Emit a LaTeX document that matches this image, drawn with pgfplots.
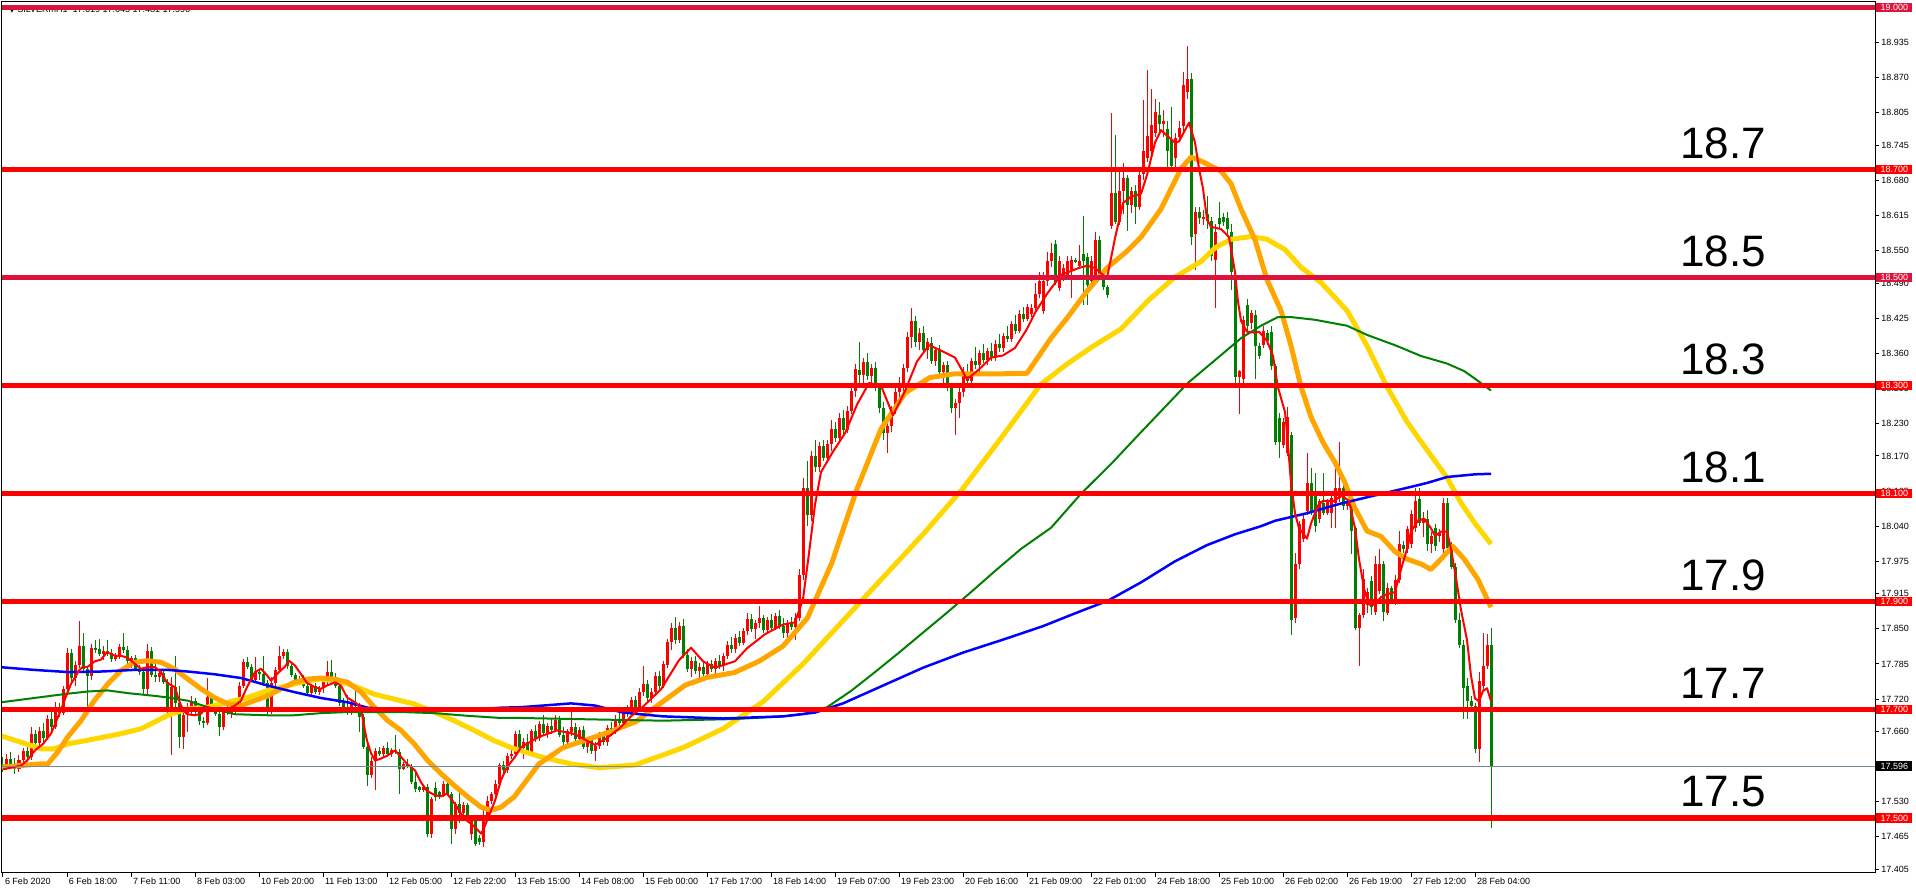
\documentclass[border=0pt]{standalone}
\usepackage{pgfplots}
\pgfplotsset{compat=1.18}
\usepackage{pgfplotstable}
\usepackage{fontspec}
\setmainfont{Liberation Sans}
\newfontfamily\dejavu{DejaVu Sans}
\definecolor{mtred}{RGB}{255,0,0}
\definecolor{mtgreen}{RGB}{0,128,0}
\definecolor{crimson}{RGB}{220,20,60}
\definecolor{maorange}{RGB}{255,165,0}
\definecolor{magold}{RGB}{255,215,0}
\definecolor{mablue}{RGB}{0,0,255}
\definecolor{slate}{RGB}{119,136,153}

\pgfplotstableread{
o h l c
17.600 17.612 17.585 17.592
17.592 17.618 17.588 17.610
17.610 17.622 17.594 17.598
17.598 17.611 17.582 17.590
17.590 17.616 17.586 17.608
17.608 17.630 17.600 17.624
17.624 17.640 17.604 17.612
17.612 17.668 17.608 17.656
17.656 17.662 17.630 17.638
17.638 17.668 17.626 17.660
17.660 17.676 17.640 17.648
17.648 17.690 17.644 17.684
17.684 17.700 17.660 17.668
17.668 17.714 17.664 17.705
17.705 17.712 17.686 17.694
17.694 17.745 17.690 17.738
17.738 17.815 17.730 17.806
17.806 17.812 17.752 17.760
17.760 17.790 17.745 17.784
17.784 17.865 17.778 17.818
17.818 17.842 17.770 17.776
17.776 17.782 17.700 17.762
17.762 17.822 17.756 17.815
17.815 17.830 17.805 17.812
17.812 17.832 17.800 17.804
17.804 17.818 17.792 17.810
17.810 17.830 17.800 17.806
17.806 17.812 17.788 17.794
17.794 17.806 17.790 17.800
17.800 17.822 17.795 17.816
17.816 17.843 17.805 17.810
17.810 17.818 17.785 17.790
17.790 17.800 17.778 17.796
17.796 17.802 17.772 17.776
17.776 17.784 17.764 17.770
17.770 17.775 17.730 17.738
17.738 17.822 17.730 17.810
17.810 17.816 17.760 17.764
17.764 17.790 17.752 17.760
17.760 17.775 17.752 17.768
17.768 17.772 17.748 17.752
17.752 17.758 17.686 17.705
17.705 17.760 17.616 17.742
17.742 17.800 17.700 17.712
17.712 17.745 17.630 17.650
17.650 17.700 17.628 17.690
17.690 17.712 17.660 17.702
17.702 17.725 17.690 17.716
17.716 17.722 17.690 17.697
17.697 17.705 17.672 17.680
17.680 17.686 17.666 17.676
17.676 17.760 17.672 17.724
17.724 17.730 17.700 17.706
17.706 17.712 17.688 17.692
17.692 17.700 17.652 17.668
17.668 17.705 17.662 17.699
17.699 17.712 17.690 17.694
17.694 17.702 17.685 17.698
17.698 17.708 17.692 17.702
17.702 17.752 17.696 17.745
17.745 17.795 17.740 17.788
17.788 17.798 17.775 17.780
17.780 17.785 17.752 17.756
17.756 17.798 17.750 17.770
17.770 17.776 17.755 17.766
17.766 17.800 17.745 17.750
17.750 17.755 17.690 17.698
17.698 17.760 17.692 17.750
17.750 17.780 17.745 17.774
17.774 17.819 17.770 17.800
17.800 17.812 17.795 17.808
17.808 17.812 17.775 17.782
17.782 17.786 17.760 17.764
17.764 17.768 17.748 17.752
17.752 17.762 17.748 17.758
17.758 17.764 17.740 17.745
17.745 17.750 17.728 17.732
17.732 17.748 17.728 17.744
17.744 17.750 17.730 17.734
17.734 17.745 17.728 17.740
17.740 17.760 17.732 17.752
17.752 17.790 17.745 17.770
17.770 17.792 17.755 17.760
17.760 17.768 17.740 17.745
17.745 17.752 17.708 17.712
17.712 17.722 17.702 17.706
17.706 17.728 17.690 17.694
17.694 17.720 17.690 17.712
17.712 17.742 17.700 17.708
17.708 17.712 17.660 17.686
17.686 17.692 17.628 17.632
17.632 17.640 17.560 17.580
17.580 17.612 17.574 17.606
17.606 17.630 17.552 17.624
17.624 17.632 17.614 17.618
17.618 17.634 17.612 17.630
17.630 17.640 17.614 17.618
17.618 17.630 17.612 17.626
17.626 17.654 17.618 17.622
17.622 17.628 17.545 17.590
17.590 17.604 17.588 17.600
17.600 17.610 17.592 17.596
17.596 17.600 17.562 17.566
17.566 17.585 17.548 17.553
17.557 17.560 17.548 17.552
17.552 17.560 17.548 17.558
17.558 17.562 17.465 17.471
17.471 17.538 17.462 17.535
17.556 17.566 17.532 17.538
17.548 17.550 17.535 17.540
17.540 17.568 17.538 17.562
17.562 17.566 17.540 17.545
17.545 17.548 17.452 17.480
17.480 17.530 17.470 17.525
17.525 17.557 17.490 17.510
17.510 17.530 17.505 17.524
17.524 17.528 17.494 17.498
17.470 17.500 17.460 17.495
17.495 17.500 17.448 17.452
17.462 17.468 17.450 17.455
17.455 17.520 17.446 17.502
17.502 17.540 17.498 17.532
17.532 17.548 17.526 17.545
17.545 17.570 17.540 17.563
17.563 17.602 17.558 17.598
17.598 17.605 17.582 17.588
17.588 17.620 17.584 17.615
17.615 17.625 17.610 17.618
17.618 17.660 17.612 17.656
17.656 17.662 17.626 17.630
17.630 17.648 17.610 17.640
17.640 17.655 17.618 17.622
17.622 17.665 17.618 17.660
17.660 17.672 17.640 17.648
17.648 17.680 17.642 17.674
17.674 17.690 17.652 17.658
17.658 17.676 17.648 17.670
17.670 17.684 17.655 17.662
17.662 17.690 17.660 17.682
17.682 17.688 17.650 17.654
17.654 17.668 17.630 17.640
17.640 17.664 17.636 17.660
17.660 17.700 17.652 17.668
17.668 17.676 17.640 17.646
17.646 17.668 17.640 17.662
17.662 17.670 17.628 17.632
17.632 17.650 17.620 17.644
17.644 17.652 17.618 17.624
17.624 17.640 17.605 17.634
17.634 17.660 17.628 17.652
17.652 17.660 17.636 17.640
17.640 17.672 17.634 17.666
17.666 17.678 17.652 17.660
17.660 17.690 17.656 17.684
17.684 17.694 17.668 17.676
17.676 17.702 17.672 17.698
17.698 17.710 17.686 17.692
17.692 17.724 17.688 17.718
17.718 17.726 17.700 17.706
17.706 17.740 17.700 17.734
17.734 17.782 17.726 17.748
17.748 17.756 17.716 17.722
17.722 17.740 17.712 17.734
17.734 17.770 17.728 17.762
17.762 17.772 17.738 17.744
17.744 17.790 17.740 17.784
17.784 17.832 17.778 17.826
17.826 17.860 17.810 17.852
17.852 17.872 17.822 17.830
17.830 17.862 17.824 17.856
17.856 17.868 17.796 17.802
17.802 17.812 17.770 17.776
17.776 17.798 17.760 17.790
17.790 17.800 17.766 17.772
17.772 17.786 17.752 17.780
17.780 17.790 17.760 17.766
17.766 17.790 17.758 17.784
17.784 17.792 17.770 17.776
17.776 17.796 17.764 17.790
17.790 17.802 17.776 17.782
17.782 17.806 17.772 17.800
17.800 17.828 17.794 17.820
17.820 17.834 17.806 17.812
17.812 17.840 17.806 17.834
17.834 17.846 17.818 17.824
17.824 17.852 17.820 17.846
17.846 17.880 17.838 17.868
17.868 17.878 17.844 17.850
17.850 17.866 17.832 17.860
17.860 17.892 17.852 17.870
17.870 17.876 17.842 17.848
17.848 17.872 17.840 17.866
17.866 17.878 17.846 17.852
17.852 17.880 17.848 17.874
17.874 17.884 17.850 17.856
17.856 17.870 17.834 17.842
17.842 17.866 17.826 17.860
17.860 17.872 17.848 17.854
17.854 17.880 17.830 17.870
17.870 17.960 17.864 17.950
17.950 18.130 17.940 18.110
18.110 18.160 18.040 18.060
18.060 18.180 18.050 18.170
18.170 18.200 18.140 18.150
18.150 18.196 18.140 18.188
18.188 18.200 18.160 18.166
18.166 18.200 18.158 18.192
18.192 18.236 18.180 18.220
18.220 18.232 18.196 18.204
18.204 18.250 18.198 18.240
18.240 18.256 18.210 18.218
18.218 18.262 18.212 18.254
18.254 18.300 18.248 18.290
18.290 18.340 18.280 18.330
18.330 18.380 18.300 18.320
18.320 18.352 18.296 18.344
18.344 18.360 18.310 18.318
18.318 18.340 18.300 18.332
18.332 18.344 18.290 18.296
18.296 18.306 18.250 18.258
18.258 18.270 18.200 18.212
18.212 18.236 18.175 18.226
18.226 18.262 18.214 18.256
18.256 18.296 18.248 18.288
18.288 18.316 18.270 18.300
18.300 18.340 18.290 18.332
18.332 18.400 18.326 18.390
18.390 18.444 18.370 18.420
18.420 18.430 18.372 18.380
18.380 18.406 18.366 18.398
18.398 18.410 18.360 18.366
18.366 18.388 18.350 18.380
18.380 18.390 18.340 18.346
18.346 18.372 18.336 18.366
18.366 18.376 18.320 18.326
18.326 18.344 18.300 18.338
18.338 18.346 18.290 18.296
18.296 18.304 18.250 18.258
18.258 18.276 18.208 18.268
18.268 18.296 18.240 18.288
18.288 18.334 18.280 18.326
18.326 18.340 18.300 18.308
18.308 18.352 18.302 18.346
18.346 18.372 18.330 18.338
18.338 18.366 18.326 18.360
18.360 18.378 18.342 18.348
18.348 18.370 18.338 18.364
18.364 18.380 18.346 18.352
18.352 18.384 18.346 18.378
18.378 18.396 18.362 18.370
18.370 18.398 18.362 18.392
18.392 18.410 18.380 18.386
18.386 18.420 18.380 18.414
18.414 18.430 18.396 18.402
18.402 18.440 18.398 18.432
18.432 18.446 18.418 18.424
18.424 18.452 18.420 18.446
18.432 18.452 18.428 18.444
18.444 18.490 18.440 18.470
18.470 18.510 18.462 18.494
18.438 18.510 18.432 18.494
18.494 18.548 18.484 18.530
18.530 18.565 18.520 18.545
18.562 18.570 18.486 18.490
18.481 18.540 18.476 18.530
18.500 18.525 18.494 18.518
18.500 18.540 18.495 18.530
18.515 18.540 18.463 18.533
18.533 18.536 18.528 18.530
18.522 18.560 18.518 18.530
18.543 18.614 18.450 18.530
18.538 18.545 18.450 18.487
18.493 18.540 18.488 18.530
18.493 18.584 18.488 18.570
18.570 18.578 18.495 18.500
18.500 18.505 18.478 18.482
18.482 18.486 18.462 18.468
18.595 18.805 18.590 18.657
18.657 18.765 18.600 18.604
18.604 18.700 18.598 18.660
18.660 18.712 18.617 18.684
18.684 18.690 18.586 18.635
18.635 18.668 18.620 18.660
18.660 18.672 18.600 18.630
18.630 18.700 18.625 18.691
18.691 18.828 18.680 18.734
18.721 18.885 18.715 18.763
18.735 18.850 18.720 18.782
18.768 18.830 18.760 18.806
18.801 18.825 18.770 18.785
18.785 18.810 18.760 18.790
18.775 18.790 18.705 18.735
18.755 18.815 18.700 18.707
18.721 18.768 18.700 18.759
18.760 18.790 18.755 18.777
18.780 18.880 18.770 18.857
18.843 18.928 18.830 18.867
18.867 18.879 18.560 18.575
18.580 18.630 18.514 18.622
18.622 18.630 18.600 18.610
18.610 18.625 18.598 18.612
18.618 18.651 18.590 18.604
18.604 18.612 18.530 18.540
18.533 18.600 18.444 18.585
18.610 18.640 18.590 18.600
18.613 18.620 18.595 18.604
18.610 18.622 18.580 18.590
18.585 18.600 18.477 18.510
18.496 18.505 18.300 18.317
18.317 18.330 18.247 18.327
18.313 18.430 18.300 18.421
18.449 18.460 18.400 18.411
18.416 18.440 18.405 18.435
18.430 18.440 18.313 18.374
18.374 18.380 18.350 18.355
18.376 18.410 18.370 18.402
18.398 18.404 18.375 18.383
18.400 18.410 18.330 18.336
18.336 18.340 18.190 18.195
18.240 18.250 18.167 18.195
18.190 18.240 18.185 18.233
18.175 18.261 18.170 18.242
18.209 18.215 17.838 17.867
17.871 17.990 17.860 17.970
17.970 18.050 17.960 18.045
18.017 18.060 18.010 18.054
18.068 18.176 18.060 18.120
18.120 18.148 18.060 18.068
18.097 18.139 18.030 18.040
18.054 18.090 18.045 18.087
18.083 18.139 18.060 18.064
18.064 18.090 18.060 18.087
18.064 18.096 18.036 18.092
18.083 18.148 18.036 18.111
18.092 18.195 18.085 18.111
18.111 18.120 18.070 18.078
18.078 18.090 18.070 18.087
18.073 18.080 17.989 18.031
18.036 18.040 17.848 17.852
17.852 17.880 17.782 17.876
17.876 17.960 17.870 17.942
17.895 17.925 17.880 17.918
17.938 17.948 17.876 17.890
17.881 17.985 17.876 17.970
17.920 17.998 17.915 17.970
17.970 17.975 17.865 17.881
17.880 17.935 17.876 17.925
17.925 17.930 17.900 17.904
17.904 17.950 17.895 17.940
17.940 18.031 17.935 18.007
18.005 18.012 17.990 17.998
17.998 18.040 17.990 18.035
18.007 18.070 18.000 18.063
18.036 18.111 18.030 18.087
18.090 18.111 18.040 18.045
18.045 18.066 18.020 18.055
18.054 18.070 17.995 18.007
18.007 18.030 17.990 18.022
18.036 18.045 17.995 18.003
18.022 18.035 18.010 18.030
17.998 18.092 17.990 18.083
18.083 18.092 17.995 18.000
17.998 18.010 17.960 17.965
17.964 17.972 17.860 17.867
17.867 17.880 17.815 17.820
17.820 17.830 17.684 17.740
17.744 17.760 17.684 17.716
17.716 17.725 17.700 17.707
17.707 17.712 17.620 17.627
17.627 17.770 17.604 17.754
17.744 17.843 17.735 17.782
17.782 17.840 17.775 17.820
17.820 17.852 17.481 17.596
}\candles

\newcommand\bigfont{\fontsize{22}{22}\selectfont}
\newcommand\tinyfont{\fontsize{4.5}{5}\selectfont}

\begin{document}
\begin{tikzpicture}
\path[use as bounding box] (-1pt,-10pt) rectangle (957pt,436.5pt);
\begin{axis}[
  at={(0pt,0pt)}, anchor=south west,
  scale only axis, width=936.5pt, height=435.5pt,
  xmin=-0.25, xmax=468, ymin=17.3981, ymax=19.0102,
  clip mode=individual,
  axis line style={black, line width=0.5pt},
  xtick={0,16,...,368},
  xticklabels={6 Feb 2020, 6 Feb 18:00, 7 Feb 11:00, 8 Feb 03:00, 10 Feb 20:00, 11 Feb 13:00, 12 Feb 05:00, 12 Feb 22:00, 13 Feb 15:00, 14 Feb 08:00, 15 Feb 00:00, 17 Feb 17:00, 18 Feb 14:00, 19 Feb 07:00, 19 Feb 23:00, 20 Feb 16:00, 21 Feb 09:00, 22 Feb 01:00, 24 Feb 18:00, 25 Feb 10:00, 26 Feb 02:00, 26 Feb 19:00, 27 Feb 12:00, 28 Feb 04:00},
  xtick pos=left, ytick pos=right, yticklabel pos=right,
  tick align=outside, major tick length=2pt,
  tick style={black, line width=0.5pt},
  ytick={17.405,17.465,17.530,17.595,17.660,17.720,17.785,17.850,17.915,17.975,18.040,18.105,18.170,18.230,18.295,18.360,18.425,18.490,18.550,18.615,18.680,18.745,18.805,18.870,18.935},
  /pgf/number format/assume math mode=true,
  yticklabel style={/pgf/number format/fixed, /pgf/number format/fixed zerofill, /pgf/number format/precision=3, /pgf/number format/1000 sep={}, anchor=west, inner sep=0pt, xshift=1pt, font=\tinyfont},
  xticklabel style={anchor=north west, inner sep=0pt, xshift=0.8pt, yshift=-0.5pt, font=\tinyfont},
]
% wicks and bodies: up candles red, down candles green
\addplot[draw=none, no markers, forget plot, restrict x to domain=-5:500,
  error bars/.cd, y dir=both, y explicit, error mark=none,
  error bar style={draw=mtred, line width=0.5pt}]
  table[x expr={\thisrow{c}>=\thisrow{o} ? \coordindex : -100},
        y expr={(\thisrow{h}+\thisrow{l})/2},
        y error expr={(\thisrow{h}-\thisrow{l})/2}] {\candles};
\addplot[draw=none, no markers, forget plot, restrict x to domain=-5:500,
  error bars/.cd, y dir=both, y explicit, error mark=none,
  error bar style={draw=mtgreen, line width=0.5pt}]
  table[x expr={\thisrow{c}<\thisrow{o} ? \coordindex : -100},
        y expr={(\thisrow{h}+\thisrow{l})/2},
        y error expr={(\thisrow{h}-\thisrow{l})/2}] {\candles};
\addplot[draw=none, no markers, forget plot, restrict x to domain=-5:500,
  error bars/.cd, y dir=both, y explicit, error mark=none,
  error bar style={draw=mtred, line width=1.5pt}]
  table[x expr={\thisrow{c}>=\thisrow{o} ? \coordindex : -100},
        y expr={(\thisrow{o}+\thisrow{c})/2},
        y error expr={max(abs(\thisrow{c}-\thisrow{o})/2,0.0009)}] {\candles};
\addplot[draw=none, no markers, forget plot, restrict x to domain=-5:500,
  error bars/.cd, y dir=both, y explicit, error mark=none,
  error bar style={draw=mtgreen, line width=1.5pt}]
  table[x expr={\thisrow{c}<\thisrow{o} ? \coordindex : -100},
        y expr={(\thisrow{o}+\thisrow{c})/2},
        y error expr={max(abs(\thisrow{c}-\thisrow{o})/2,0.0009)}] {\candles};

% moving averages
\addplot[magold, line width=2.5pt, line join=round] coordinates {(-0.5,17.652) (4.5,17.640) (9.5,17.628) (12.8,17.628) (16.2,17.637) (22.8,17.646) (29.5,17.656) (34.5,17.665) (37.8,17.677) (41.2,17.690) (46.2,17.702) (51.2,17.705) (56.2,17.714) (61.2,17.723) (66.2,17.736) (71.2,17.745) (76.2,17.754) (79.5,17.757) (82.8,17.754) (86.2,17.748) (89.5,17.739) (92.8,17.729) (97.8,17.720) (102.8,17.711) (107.8,17.696) (112.8,17.680) (117.8,17.662) (122.8,17.643) (127.8,17.628) (135,17.612) (142,17.600) (149,17.593) (158,17.598) (170,17.630) (180,17.665) (190,17.715) (200,17.785) (210,17.865) (220,17.945) (230,18.025) (240,18.110) (249.5,18.203) (254.5,18.253) (259.5,18.303) (266,18.340) (272.5,18.373) (279.5,18.405) (286.2,18.457) (292.8,18.500) (299.5,18.530) (303,18.555) (307,18.571) (312,18.576) (316,18.571) (320.5,18.552) (324.5,18.519) (329.5,18.491) (336,18.439) (341,18.374) (346,18.298) (351,18.233) (356,18.181) (361,18.130) (364.5,18.083) (368,18.045) (372,18.007)};
\addplot[maorange, line width=2.5pt, line join=round] coordinates {(-0.5,17.594) (4.5,17.597) (9.5,17.600) (11.2,17.600) (13.7,17.622) (16.2,17.650) (19.5,17.680) (22.8,17.717) (26.2,17.748) (29.5,17.773) (32.8,17.788) (36.2,17.791) (39.5,17.788) (42.8,17.776) (46.2,17.757) (49.5,17.739) (52.8,17.723) (56.2,17.711) (59.5,17.708) (62.8,17.717) (66.2,17.726) (69.5,17.739) (72.8,17.751) (76.2,17.757) (79.5,17.759) (82.8,17.757) (86.2,17.751) (89.5,17.733) (92.8,17.705) (96.2,17.680) (99.5,17.662) (102.8,17.637) (106.2,17.606) (109.5,17.582) (112.8,17.560) (116.2,17.539) (119.5,17.520) (122,17.514) (124.5,17.520) (127.8,17.539) (134,17.600) (140,17.630) (146,17.645) (152,17.660) (158.4,17.679) (164,17.710) (170.6,17.746) (176,17.760) (182.8,17.769) (189,17.790) (195,17.818) (201.1,17.870) (207.2,17.972) (213.4,18.107) (219.5,18.220) (225.6,18.287) (231.7,18.315) (237.8,18.322) (243.9,18.322) (249.5,18.322) (256,18.323) (262,18.388) (266,18.425) (271,18.475) (276,18.518) (281,18.549) (284.5,18.575) (289.5,18.627) (294.5,18.702) (297,18.723) (299.5,18.716) (304.5,18.697) (307,18.674) (309.5,18.627) (313,18.570) (316,18.496) (319.5,18.439) (322,18.374) (324.5,18.298) (327,18.242) (330,18.195) (333,18.158) (335.5,18.120) (338,18.073) (341,18.031) (344.5,18.021) (348,17.993) (351,17.979) (354.5,17.970) (357,17.960) (359.5,17.979) (362.4,18.003) (365.3,17.979) (368.7,17.942) (372,17.890)};
\addplot[mtgreen, line width=1pt] coordinates {(-0.5,17.714) (7.8,17.722) (16.2,17.730) (21.2,17.734) (26.2,17.736) (31.2,17.731) (37.8,17.726) (41.2,17.723) (46.2,17.717) (51.2,17.705) (57.8,17.692) (66.2,17.690) (72.8,17.690) (79.5,17.694) (86.2,17.696) (99.5,17.696) (107.8,17.694) (116.2,17.689) (124.5,17.685) (129.5,17.685) (150,17.682) (165,17.680) (182.8,17.683) (195,17.688) (200,17.692) (206,17.705) (212,17.735) (218,17.770) (224,17.806) (230,17.843) (236,17.880) (242,17.918) (248,17.957) (254.5,17.998) (262,18.037) (269.5,18.100) (277,18.155) (284.5,18.214) (291.2,18.266) (296.2,18.305) (302.8,18.346) (309.5,18.388) (314.5,18.411) (318.7,18.427) (322,18.427) (328,18.422) (336,18.411) (341,18.394) (348,18.375) (354.5,18.355) (361,18.341) (365.3,18.327) (368,18.313) (372,18.291)};
\addplot[mablue, line width=1.25pt] coordinates {(-0.5,17.779) (2.8,17.777) (7.8,17.774) (16.2,17.770) (24.5,17.771) (32.8,17.774) (41.2,17.774) (46.2,17.771) (52.8,17.766) (59.5,17.759) (66.2,17.745) (72.8,17.733) (79.5,17.722) (86.2,17.714) (91.2,17.704) (99.5,17.700) (107.8,17.699) (116.2,17.700) (124.5,17.704) (129.5,17.705) (135,17.708) (142,17.712) (148,17.708) (155,17.695) (165,17.688) (180,17.684) (195,17.688) (203,17.695) (210,17.712) (220,17.745) (230,17.778) (240,17.806) (250,17.830) (260,17.855) (269.5,17.883) (276.2,17.902) (284.5,17.936) (293,17.975) (301,18.005) (308,18.025) (314.5,18.040) (318,18.050) (326,18.064) (334.5,18.082) (343,18.097) (351,18.111) (356,18.120) (361,18.131) (368,18.136) (372,18.137)};
\addplot[mtred, line width=1pt, line join=round] coordinates {(0,17.590) (4.5,17.597) (6,17.606) (8,17.625) (10,17.637) (12,17.656) (14.5,17.700) (16,17.730) (17,17.748) (19,17.773) (20,17.780) (21,17.779) (23,17.790) (24.5,17.793) (26,17.807) (28,17.800) (29.5,17.800) (31,17.797) (33,17.785) (34.5,17.776) (36,17.779) (38,17.779) (39.5,17.770) (41,17.750) (43,17.742) (44,17.717) (45,17.700) (46,17.692) (48,17.690) (49.5,17.693) (51,17.705) (53,17.702) (54.5,17.700) (56,17.700) (58,17.708) (59.5,17.717) (61,17.742) (63,17.770) (64.5,17.776) (66,17.764) (67,17.754) (69,17.770) (70.5,17.780) (71.5,17.791) (73,17.782) (74.5,17.766) (76,17.750) (78,17.742) (79.5,17.739) (81,17.745) (83,17.751) (84.5,17.745) (86,17.723) (88,17.714) (89.5,17.705) (90,17.680) (91,17.643) (92,17.620) (93,17.606) (94.5,17.610) (96,17.615) (98,17.625) (99.5,17.613) (101,17.600) (103,17.588) (104.5,17.566) (106,17.550) (108,17.542) (109.5,17.540) (111,17.545) (113,17.526) (114.5,17.508) (116,17.495) (118,17.483) (119.5,17.471) (120,17.477) (121,17.495) (123,17.532) (124.5,17.570) (126,17.594) (128,17.613) (129.5,17.631) (134,17.650) (138.5,17.662) (143,17.655) (148,17.635) (151,17.648) (154,17.665) (157,17.688) (160,17.706) (164.5,17.738) (169,17.792) (172,17.815) (175,17.790) (178,17.778) (183,17.790) (186,17.814) (190.5,17.840) (195,17.858) (198,17.862) (200,17.905) (201.5,17.990) (203,18.080) (204.5,18.140) (207.5,18.178) (210.5,18.212) (213.5,18.265) (216.5,18.305) (219.5,18.300) (222.5,18.245) (225.5,18.290) (228.5,18.345) (231.5,18.375) (234.5,18.365) (238,18.352) (241,18.312) (244,18.330) (247,18.352) (250,18.356) (253,18.370) (256,18.405) (258,18.435) (261,18.470) (264.5,18.505) (269,18.518) (271,18.522) (273,18.518) (275,18.505) (276,18.500) (277,18.536) (278,18.573) (280,18.638) (282,18.650) (284.5,18.655) (286,18.690) (288,18.750) (289.5,18.773) (291,18.763) (293,18.750) (294,18.752) (295.5,18.773) (296.5,18.787) (298,18.750) (299,18.702) (300,18.665) (301,18.608) (302,18.594) (304.5,18.590) (306.5,18.575) (308,18.510) (308.7,18.458) (309.5,18.420) (311,18.400) (313,18.398) (314,18.400) (316,18.383) (317.5,18.355) (318.7,18.298) (320.5,18.251) (321,18.214) (322,18.120) (323,18.064) (324,18.036) (326,18.017) (327,18.045) (328.7,18.078) (330,18.087) (333,18.087) (334.5,18.097) (336.5,18.087) (338,18.036) (339,17.979) (340.3,17.923) (341.5,17.895) (343,17.895) (344.5,17.909) (346,17.914) (348,17.918) (349.5,17.960) (351,17.998) (352,18.030) (353.7,18.050) (355.3,18.054) (357,18.036) (358,18.022) (359.5,18.030) (361,18.030) (362,17.998) (363.3,17.942) (364.5,17.885) (366,17.829) (367,17.763) (368,17.721) (369,17.716) (370,17.735) (371,17.740) (372,17.716)};

% header text (partly hidden by the 19.000 line)
\node[anchor=west, inner sep=0pt, font=\tinyfont] at (axis cs:1.5,18.9954) {{\dejavu\fontsize{3.5}{4}\selectfont ▼}\ SILVERmH1\ \ 17.619 17.645 17.481 17.596};

% current price line
\addplot[slate, line width=0.5pt, forget plot] coordinates {(-0.25,17.596) (468,17.596)};
% horizontal levels
\addplot[crimson, line width=2.6pt, forget plot] coordinates {(-0.25,19.0) (468,19.0)};
\addplot[mtred, line width=2.6pt, forget plot] coordinates {(-0.25,18.7) (468,18.7)};
\addplot[crimson, line width=2.6pt, forget plot] coordinates {(-0.25,18.5) (468,18.5)};
\addplot[mtred, line width=2.6pt, forget plot] coordinates {(-0.25,18.3) (468,18.3)};
\addplot[mtred, line width=2.6pt, forget plot] coordinates {(-0.25,18.1) (468,18.1)};
\addplot[mtred, line width=2.6pt, forget plot] coordinates {(-0.25,17.9) (468,17.9)};
\addplot[mtred, line width=2.6pt, forget plot] coordinates {(-0.25,17.7) (468,17.7)};
\addplot[mtred, line width=2.6pt, forget plot] coordinates {(-0.25,17.5) (468,17.5)};

% big level labels
\foreach \v/\t in {18.7/18.7, 18.5/18.5, 18.3/18.3, 18.1/18.1, 17.9/17.9, 17.7/17.7, 17.5/17.5}{
  \edef\temp{\noexpand\node[anchor=base, inner sep=0pt, font=\noexpand\bigfont] at (axis cs:430,\v+0.0203) {\t};}
  \temp
}

% price-scale boxes
\tikzset{pbox/.style={anchor=west, inner sep=0pt, minimum height=4.6pt, minimum width=18pt, text=white, font=\tinyfont, xshift=0.5pt}}
\node[pbox, fill=crimson] at (axis cs:468,19.0) {19.000};
\node[pbox, fill=mtred] at (axis cs:468,18.7) {18.700};
\node[pbox, fill=crimson] at (axis cs:468,18.5) {18.500};
\node[pbox, fill=mtred] at (axis cs:468,18.3) {18.300};
\node[pbox, fill=mtred] at (axis cs:468,18.1) {18.100};
\node[pbox, fill=mtred] at (axis cs:468,17.9) {17.900};
\node[pbox, fill=mtred] at (axis cs:468,17.7) {17.700};
\node[pbox, fill=black] at (axis cs:468,17.596) {17.596};
\node[pbox, fill=mtred] at (axis cs:468,17.5) {17.500};
\end{axis}
\end{tikzpicture}
\end{document}
